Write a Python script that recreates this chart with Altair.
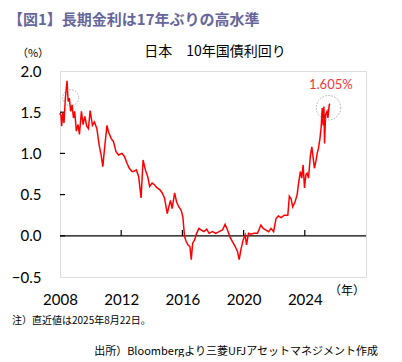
import altair as alt
import pandas as pd

# 10-year JGB yield (%)
years = [
    2008.00, 2008.07, 2008.11, 2008.18, 2008.26, 2008.35, 2008.46, 2008.53, 2008.61,
    2008.70, 2008.79, 2008.88, 2008.96, 2009.07, 2009.18, 2009.27, 2009.40, 2009.51,
    2009.62, 2009.75, 2009.86, 2009.97,
    2010.12, 2010.25, 2010.41, 2010.56, 2010.69, 2010.80, 2010.91,
    2011.07, 2011.17, 2011.35, 2011.50, 2011.66, 2011.83,
    2012.05, 2012.22, 2012.38, 2012.53, 2012.71, 2012.81, 2012.99,
    2013.14, 2013.30, 2013.43, 2013.58, 2013.73, 2013.86,
    2014.02, 2014.17, 2014.35, 2014.52, 2014.68, 2014.83,
    2015.01, 2015.11, 2015.22, 2015.33, 2015.49, 2015.62, 2015.77, 2015.92,
    2016.03, 2016.14, 2016.25, 2016.36, 2016.49, 2016.58, 2016.67, 2016.80, 2016.93,
    2017.08, 2017.24, 2017.41, 2017.59, 2017.74, 2017.96,
    2018.18, 2018.39, 2018.62, 2018.79, 2018.95,
    2019.10, 2019.27, 2019.45, 2019.60, 2019.71, 2019.82, 2019.97,
    2020.10, 2020.19, 2020.32, 2020.48, 2020.69, 2020.91,
    2021.13, 2021.28, 2021.46, 2021.64, 2021.79, 2021.96,
    2022.12, 2022.27, 2022.45, 2022.66, 2022.89, 2022.99,
    2023.10, 2023.21, 2023.36, 2023.50, 2023.58, 2023.71, 2023.80, 2023.89, 2023.98,
    2024.07, 2024.15, 2024.24, 2024.37, 2024.46, 2024.55, 2024.63, 2024.72, 2024.81,
    2024.89, 2024.99, 2025.07, 2025.14, 2025.20, 2025.25, 2025.29, 2025.36, 2025.45,
    2025.51, 2025.60, 2025.64,
]
yields = [
    1.49, 1.45, 1.33, 1.49, 1.37, 1.67, 1.88, 1.63, 1.67,
    1.51, 1.59, 1.43, 1.51, 1.27, 1.35, 1.23, 1.51, 1.35,
    1.45, 1.33, 1.30, 1.52,
    1.34, 1.38, 1.30, 1.10, 0.98, 0.84, 1.06,
    1.34, 1.26, 1.18, 1.14, 1.02, 0.98,
    1.00, 0.96, 0.88, 0.82, 0.78, 0.78, 0.80,
    0.72, 0.46, 0.92, 0.80, 0.72, 0.60,
    0.64, 0.62, 0.58, 0.56, 0.52, 0.46,
    0.27, 0.35, 0.43, 0.33, 0.52, 0.41, 0.35, 0.31,
    0.23, -0.01, -0.07, -0.11, -0.13, -0.29, -0.09, -0.05, 0.03,
    0.09, 0.07, 0.05, 0.08, 0.03, 0.05,
    0.03, 0.05, 0.07, 0.14, 0.07,
    -0.01, -0.07, -0.13, -0.19, -0.29, -0.17, -0.05,
    0.01, -0.11, 0.03, 0.02, 0.03, 0.03,
    0.13, 0.09, 0.07, 0.05, 0.09, 0.05,
    0.21, 0.24, 0.22, 0.25, 0.25, 0.48,
    0.45, 0.35, 0.41, 0.50, 0.62, 0.78, 0.70, 0.86, 0.58,
    0.74, 0.76, 0.70, 0.98, 1.08, 0.94, 0.82, 0.90, 1.00,
    1.06, 1.18, 1.32, 1.55, 1.34, 1.57, 1.12, 1.47, 1.51,
    1.43, 1.59, 1.605,
]

x_ticks = [2008, 2012, 2016, 2020, 2024]
y_ticks = [-0.5, 0.0, 0.5, 1.0, 1.5, 2.0]

circle_years = [2008.70, 2025.55]
circle_values = [1.676, 1.555]
circle_sizes = [256, 595]

label_year = [2025.70]
label_value = [1.83]
label_text = ["1.605%"]

title_text = "【図1】長期金利は17年ぶりの高水準"
subtitle_text = "日本　10年国債利回り"
unit_y = "（%）"
unit_x = "（年）"
note_text = "注）直近値は2025年8月22日。"
source_text = "出所）Bloombergより三菱UFJアセットマネジメント作成"

W, H = 306, 206
JP = "Noto Sans CJK JP"
NUM = "Lato"

df = pd.DataFrame({"year": years, "value": yields})
xs = alt.Scale(domain=[2008, 2028], nice=False, zero=False)
ys = alt.Scale(domain=[-0.5, 2.0], nice=False, zero=False)

line = alt.Chart(df).mark_line(color="#ff0000", strokeWidth=1.5).encode(
    x=alt.X("year:Q", scale=xs, title=None,
            axis=alt.Axis(values=x_ticks, format="d", ticks=False, domain=False,
                          grid=False, labelFont=NUM, labelFontSize=15,
                          labelColor="#000000", labelPadding=22,
                          labelBaseline="middle", labelFlush=False)),
    y=alt.Y("value:Q", scale=ys, title=None,
            axis=alt.Axis(values=y_ticks, format=".1f", ticks=False, domain=False,
                          grid=False, labelFont=NUM, labelFontSize=15,
                          labelColor="#000000", labelPadding=19)),
)

zero = alt.Chart(pd.DataFrame({"v": [0.0]})).mark_rule(color="#000000", strokeWidth=1.3).encode(
    y=alt.Y("v:Q", scale=ys)
)

xt = alt.Chart(pd.DataFrame({"t": x_ticks[1:], "y0": [0.0] * 4, "y1": [0.07] * 4})).mark_rule(
    color="#000000", strokeWidth=1.2).encode(
    x=alt.X("t:Q", scale=xs), y=alt.Y("y0:Q", scale=ys), y2="y1:Q"
)

yt = alt.Chart(pd.DataFrame({"t": y_ticks[1:-1]})).mark_rule(color="#000000", strokeWidth=1.2).encode(
    y=alt.Y("t:Q", scale=ys), x=alt.value(0), x2=alt.value(5)
)

circles = alt.Chart(pd.DataFrame({"year": circle_years, "value": circle_values, "s": circle_sizes})).mark_point(
    shape="circle", filled=False, color="#8c8c8c", strokeWidth=1, strokeDash=[1.5, 1.5]).encode(
    x=alt.X("year:Q", scale=xs), y=alt.Y("value:Q", scale=ys),
    size=alt.Size("s:Q", scale=None, legend=None)
)

lab = alt.Chart(pd.DataFrame({"year": label_year, "value": label_value, "t": label_text})).mark_text(
    color="#f2343c", font=NUM, fontSize=13, align="center", baseline="middle").encode(
    x=alt.X("year:Q", scale=xs), y=alt.Y("value:Q", scale=ys), text="t:N"
)

def txt(t, x, y, size, align="left", color="#000000", weight="normal", font=JP):
    return alt.Chart(pd.DataFrame({"t": [t]})).mark_text(
        align=align, baseline="middle", fontSize=size, color=color,
        fontWeight=weight, font=font).encode(
        x=alt.value(x), y=alt.value(y), text="t:N")

texts = [
    txt(title_text, -52, -51, 15, color="#66669a", weight="bold"),
    txt(subtitle_text, 155, -19, 14, align="center"),
    txt(unit_y, -27, -17, 11, align="center"),
    txt(unit_x, 287, 220, 12, align="center"),
    txt(note_text, -48, 250, 10),
    txt(source_text, 318, 281, 11, align="right"),
]

chart = alt.layer(zero, xt, yt, line, circles, lab, *texts).properties(
    width=W, height=H,
    autosize=alt.AutoSizeParams(type="none"),
    padding={"left": 52, "top": 63, "right": 26, "bottom": 80},
).configure_view(stroke="#000000", strokeWidth=1.2).configure(background="white")

chart.save("out.html", embed_options={"renderer": "svg", "actions": False})
